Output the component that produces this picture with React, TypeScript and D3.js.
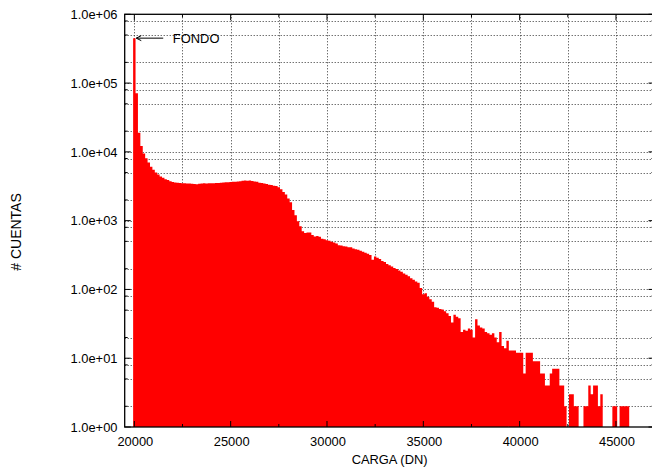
import React, { useEffect, useRef } from "react";
import * as d3 from "d3";

// histogram bins (DN)
const binStart = 20000;
const binWidth = 125;

// counts per bin
const counts = [
  450000, 71000, 19000, 12200, 9500, 8100, 7000, 6100, 5500, 5000,
  4700, 4400, 4200, 4000, 3900, 3750, 3650, 3600, 3560, 3520,
  3500, 3490, 3470, 3480, 3450, 3400, 3380, 3450, 3470, 3490,
  3480, 3500, 3490, 3510, 3530, 3520, 3560, 3580, 3610, 3630,
  3650, 3680, 3670, 3710, 3750, 3800, 3820, 3800, 3830, 3780,
  3720, 3680, 3560, 3520, 3480, 3420, 3320, 3300, 3230, 3180,
  3050, 2850, 2600, 2400, 2100, 1850, 1430, 1200, 980, 830,
  700, 660, 670, 670, 620, 590, 600, 585, 545, 535,
  520, 510, 495, 480, 465, 440, 435, 425, 420, 412,
  411, 395, 385, 378, 365, 352, 342, 330, 317, 270,
  300, 290, 278, 258, 250, 235, 225, 215, 205, 198,
  188, 180, 170, 163, 155, 145, 138, 130, 125, 105,
  85, 88, 78, 72, 66, 55, 54, 52, 51, 48,
  45, 41, 33, 43, 40, 38, 24, 26, 25, 27,
  26, 20, 37, 30, 28, 27, 24, 23, 22, 23,
  20, 17, 24, 15, 14, 18, 13, 13, 13, 12,
  12, 12, 6, 12, 12, 12, 9, 9, 9, 6,
  6, 4, 4, 6, 7, 7, 7, 4, 4, 2,
  0, 3, 3, 2, 2, 0, 0, 2, 2, 4,
  3, 4, 4, 2, 3, 0, 0, 0, 0, 2,
  2, 0, 2, 2, 2, 2,
];

const xTicks = [20000, 25000, 30000, 35000, 40000, 45000];
const xMinorTicks = [22500, 27500, 32500, 37500, 42500];
const yTicks = [1, 10, 100, 1000, 10000, 100000, 1000000];
const yTickLabels = ["1.0e+00", "1.0e+01", "1.0e+02", "1.0e+03", "1.0e+04", "1.0e+05", "1.0e+06"];
const yMinorSteps = [2, 5, 8];

const arrowFrom = [21500, 450000];
const arrowTo = [20100, 450000];
const arrowLabel = "FONDO";
const arrowLabelX = 22000;

const FONT = "'Liberation Sans', Arial, Helvetica, sans-serif";

const App = () => {
  const ref = useRef<SVGSVGElement | null>(null);

  useEffect(() => {
    if (!ref.current) return;
    const svg = d3.select(ref.current);
    svg.selectAll("*").remove();

    const left = 124.7, right = 654.5, top = 14.3, bottom = 427;

    const x = d3.scaleLinear().domain([19500, 47000]).range([left, right]);
    const y = d3.scaleLog().domain([1, 1e6]).range([bottom, top]);

    const yMinor: number[] = [];
    yTicks.slice(0, -1).forEach(t => yMinorSteps.forEach(m => yMinor.push(t * m)));

    // grid
    const grid = svg.append("g")
      .attr("stroke", "#333")
      .attr("stroke-width", 1)
      .attr("stroke-dasharray", "1,2");
    [...yTicks.slice(1, -1), ...yMinor].forEach(v => {
      const yy = Math.round(y(v)) + 0.5;
      grid.append("line").attr("x1", left).attr("x2", right).attr("y1", yy).attr("y2", yy);
    });
    [...xTicks, ...xMinorTicks].forEach(v => {
      const xx = Math.round(x(v)) + 0.5;
      grid.append("line").attr("x1", xx).attr("x2", xx).attr("y1", top).attr("y2", bottom);
    });

    // bars, as one path so neighbouring boxes leave no seams
    const bins = counts.map((c, i) => ({ center: binStart + i * binWidth, count: c })).filter(d => d.count > 1);
    const barPath = d3.path();
    bins.forEach(d => {
      const x0 = x(d.center - binWidth / 2);
      const x1 = x(d.center + binWidth / 2);
      barPath.rect(x0, y(d.count), x1 - x0, bottom - y(d.count));
    });
    svg.append("path")
      .attr("d", barPath.toString())
      .attr("fill", "#ff0000");

    // border and ticks
    const axes = svg.append("g").attr("stroke", "#000").attr("fill", "none");
    axes.append("rect")
      .attr("x", left).attr("y", top)
      .attr("width", right - left).attr("height", bottom - top)
      .attr("stroke-width", 1.3);

    yTicks.forEach(v => {
      const yy = y(v);
      axes.append("line").attr("x1", left).attr("x2", left + 6).attr("y1", yy).attr("y2", yy);
      axes.append("line").attr("x1", right).attr("x2", right - 6).attr("y1", yy).attr("y2", yy);
    });
    yMinor.forEach(v => {
      const yy = y(v);
      axes.append("line").attr("x1", left).attr("x2", left + 3).attr("y1", yy).attr("y2", yy);
      axes.append("line").attr("x1", right).attr("x2", right - 3).attr("y1", yy).attr("y2", yy);
    });
    xTicks.forEach(v => {
      const xx = x(v);
      axes.append("line").attr("x1", xx).attr("x2", xx).attr("y1", bottom).attr("y2", bottom - 6);
      axes.append("line").attr("x1", xx).attr("x2", xx).attr("y1", top).attr("y2", top + 6);
    });
    xMinorTicks.forEach(v => {
      const xx = x(v);
      axes.append("line").attr("x1", xx).attr("x2", xx).attr("y1", bottom).attr("y2", bottom - 3);
      axes.append("line").attr("x1", xx).attr("x2", xx).attr("y1", top).attr("y2", top + 3);
    });

    // tick labels
    const labels = svg.append("g")
      .attr("font-family", FONT)
      .attr("font-size", 12.9)
      .attr("fill", "#000");
    yTicks.forEach((v, i) => {
      labels.append("text")
        .attr("x", 117.5)
        .attr("y", y(v))
        .attr("dy", "0.36em")
        .attr("text-anchor", "end")
        .text(yTickLabels[i]);
    });
    xTicks.forEach(v => {
      labels.append("text")
        .attr("x", x(v) + 1)
        .attr("y", 445.7)
        .attr("text-anchor", "middle")
        .text(String(v));
    });

    labels.append("text")
      .attr("x", (left + right) / 2)
      .attr("y", 464.3)
      .attr("text-anchor", "middle")
      .text("CARGA (DN)");

    labels.append("text")
      .attr("transform", "translate(20.7,232) rotate(-90)")
      .attr("text-anchor", "middle")
      .attr("font-size", 14)
      .text("# CUENTAS");

    // annotation arrow
    const ax0 = x(arrowFrom[0]), ay0 = y(arrowFrom[1]);
    const ax1 = x(arrowTo[0]), ay1 = y(arrowTo[1]);
    const arrow = svg.append("g").attr("stroke", "#000").attr("stroke-width", 1).attr("fill", "none");
    arrow.append("line").attr("x1", ax0).attr("y1", ay0).attr("x2", ax1).attr("y2", ay1);
    arrow.append("path")
      .attr("d", `M${ax1 + 5},${ay1 - 2.5}L${ax1},${ay1}L${ax1 + 5},${ay1 + 2.5}`);

    labels.append("text")
      .attr("x", x(arrowLabelX))
      .attr("y", ay0 + 4.5)
      .attr("text-anchor", "start")
      .text(arrowLabel);
  }, []);

  return (
    <svg
      ref={ref}
      width={652}
      height={468}
      style={{ position: "absolute", left: 0, top: 0, background: "#fff" }}
    />
  );
};

export default App;
